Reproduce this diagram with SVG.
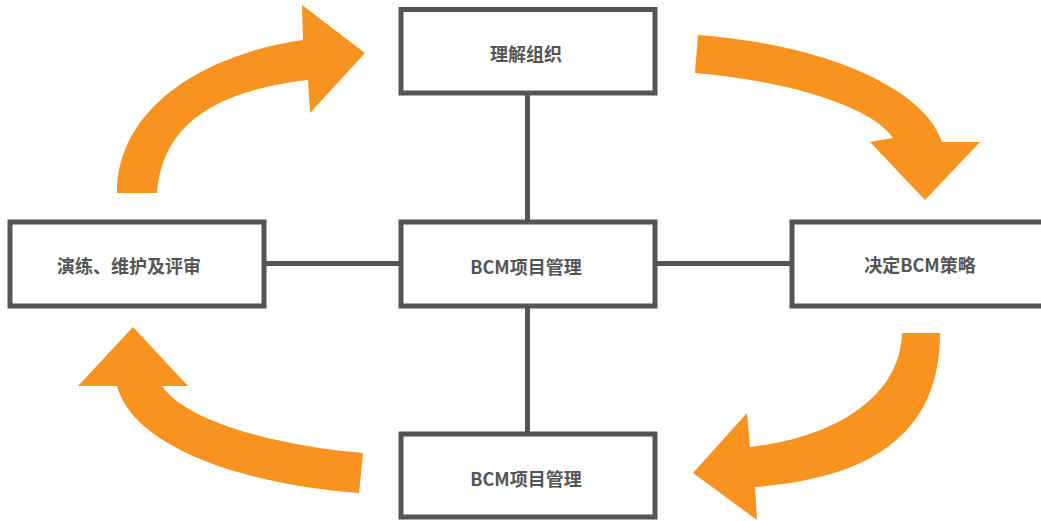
<svg xmlns="http://www.w3.org/2000/svg" width="1041" height="521" viewBox="0 0 1041 521">
<style>
.box{fill:#fff;stroke:#555;stroke-width:5}
.lbl{font-family:"Noto Sans CJK SC","Noto Sans",sans-serif;font-weight:bold;font-size:18px;fill:#555;text-anchor:middle;dominant-baseline:central}
.con{stroke:#555;stroke-width:5;fill:none}
.arr{fill:#F7931E}
</style>
<rect width="1041" height="521" fill="#fff"/>
<g id="cycle-arrows">
<path class="arr" d="M117,193 C117,110 200,55 303,40 L302,5 L365,53 L310,113 L308,80 C220,90 162,122 157,193 Z"/>
<path class="arr" d="M698,35 C830,45 925,90 942,142 L980,142 L925,200 L870,142 L893,138 C875,110 800,82 695,73 Z"/>
<path class="arr" d="M940,333 C940,435 870,478 755,487 L757,520 L693,473 L747,413 L750,447 C830,438 900,400 902,333 Z"/>
<path class="arr" d="M363,453 C270,445 185,420 162,386 L188,386 L133,327 L78,386 L117,386 C135,450 250,485 359,493 Z"/>
</g>
<g id="connectors">
<line class="con" x1="527.5" y1="93" x2="527.5" y2="222"/>
<line class="con" x1="527.5" y1="306" x2="527.5" y2="434"/>
<line class="con" x1="264" y1="263.5" x2="401" y2="263.5"/>
<line class="con" x1="655" y1="263.5" x2="792" y2="263.5"/>
</g>
<g id="node-top">
<rect class="box" x="401" y="9.5" width="254" height="83.5"/>
<text class="lbl" x="526" y="53">理解组织</text>
</g>
<g id="node-left">
<rect class="box" x="10" y="222" width="254" height="84"/>
<text class="lbl" x="129" y="265">演练、维护及评审</text>
</g>
<g id="node-center">
<rect class="box" x="401" y="222" width="254" height="84"/>
<text class="lbl" x="526" y="266">BCM项目管理</text>
</g>
<g id="node-right">
<rect class="box" x="792" y="222" width="254" height="84"/>
<text class="lbl" x="920" y="264">决定BCM策略</text>
</g>
<g id="node-bottom">
<rect class="box" x="401" y="434" width="254" height="83"/>
<text class="lbl" x="526" y="478">BCM项目管理</text>
</g>
</svg>
